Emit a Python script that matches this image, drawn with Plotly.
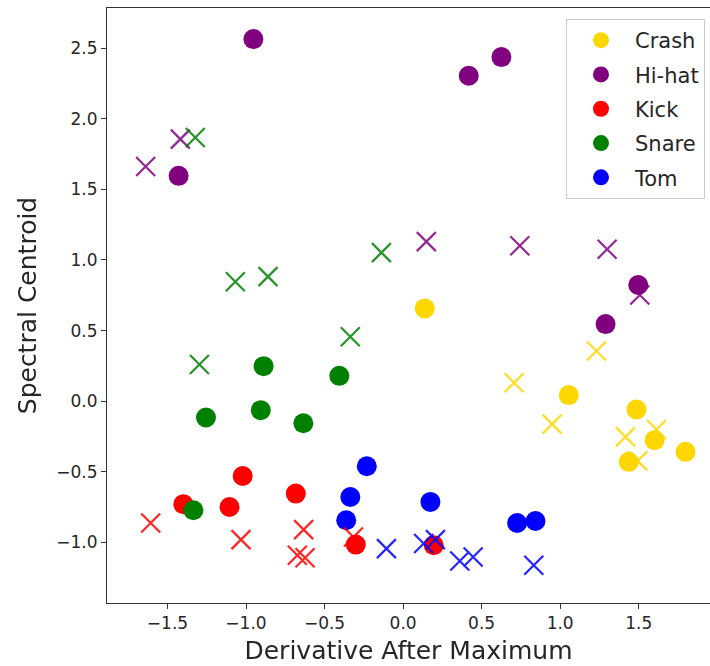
import plotly.graph_objects as go

classes = ["Crash", "Hi-hat", "Kick", "Snare", "Tom"]
colors = ["#FFD700", "#800080", "#FF0000", "#008000", "#0000FF"]

# circles (first group of samples)
crash_dot_x = [0.138, 1.055, 1.486, 1.601, 1.798, 1.437]
crash_dot_y = [0.657, 0.043, -0.059, -0.277, -0.359, -0.430]
hihat_dot_x = [-0.953, 0.418, 0.626, -1.429, 1.497, 1.289]
hihat_dot_y = [2.565, 2.305, 2.437, 1.596, 0.823, 0.546]
kick_dot_x = [-1.399, -1.021, -1.105, -0.683, -0.301, 0.195]
kick_dot_y = [-0.730, -0.530, -0.750, -0.655, -1.016, -1.021]
snare_dot_x = [-1.335, -0.888, -1.255, -0.906, -0.406, -0.635]
snare_dot_y = [-0.773, 0.248, -0.116, -0.064, 0.179, -0.157]
tom_dot_x = [-0.231, -0.336, -0.362, 0.174, 0.726, 0.843]
tom_dot_y = [-0.461, -0.679, -0.844, -0.714, -0.863, -0.849]

# crosses (second group of samples)
crash_cross_x = [0.707, 0.949, 1.231, 1.416, 1.613, 1.494]
crash_cross_y = [0.130, -0.163, 0.355, -0.253, -0.201, -0.423]
hihat_cross_x = [-1.639, -1.418, 0.148, 0.743, 1.299, 1.507]
hihat_cross_y = [1.662, 1.856, 1.130, 1.101, 1.076, 0.752]
kick_cross_x = [-1.607, -1.032, -0.633, -0.673, -0.624, -0.316]
kick_cross_y = [-0.863, -0.981, -0.910, -1.092, -1.109, -0.962]
snare_cross_x = [-1.323, -1.068, -0.860, -1.297, -0.336, -0.138]
snare_cross_y = [1.867, 0.846, 0.882, 0.260, 0.456, 1.052]
tom_cross_x = [-0.106, 0.131, 0.206, 0.361, 0.446, 0.832]
tom_cross_y = [-1.045, -1.009, -0.981, -1.133, -1.104, -1.163]

dots = [(crash_dot_x, crash_dot_y), (hihat_dot_x, hihat_dot_y), (kick_dot_x, kick_dot_y),
        (snare_dot_x, snare_dot_y), (tom_dot_x, tom_dot_y)]
crosses = [(crash_cross_x, crash_cross_y), (hihat_cross_x, hihat_cross_y),
           (kick_cross_x, kick_cross_y), (snare_cross_x, snare_cross_y),
           (tom_cross_x, tom_cross_y)]

FONT = "DejaVu Sans"
fig = go.Figure()
for name, col, (xs, ys) in zip(classes, colors, dots):
    fig.add_trace(go.Scatter(x=xs, y=ys, mode="markers", name=name, legendgroup=name,
                             marker=dict(symbol="circle", size=20, color=col,
                                         line=dict(width=0))))
for name, col, (xs, ys) in zip(classes, colors, crosses):
    fig.add_trace(go.Scatter(x=xs, y=ys, mode="markers", name=name, legendgroup=name,
                             showlegend=False, opacity=0.85,
                             marker=dict(symbol="x-thin", size=19, color=col,
                                         line=dict(width=2.2, color=col))))

axis_common = dict(showgrid=False, zeroline=False, showline=True, linecolor="#333333",
                   linewidth=1, ticks="outside", ticklen=5, tickwidth=1, tickcolor="#333333",
                   tickfont=dict(family=FONT, size=17, color="#262626"))
fig.update_xaxes(range=[-1.885, 1.954], dtick=0.5, tick0=0, tickformat=".1f", mirror=True,
                 title=dict(text="Derivative After Maximum", font=dict(family=FONT, size=25, color="#262626"),
                            standoff=9),
                 **axis_common)
fig.update_yaxes(range=[-1.430, 2.785], dtick=0.5, tick0=0, tickformat=".1f",
                 title=dict(text="Spectral Centroid", font=dict(family=FONT, size=25, color="#262626"),
                            standoff=12),
                 **axis_common)

fig.update_layout(
    width=710, height=666,
    margin=dict(l=107, r=0, t=8, b=63),
    plot_bgcolor="white", paper_bgcolor="white",
    font=dict(family=FONT, color="#262626"),
    legend=dict(x=0.9917, y=0.9815, xanchor="right", yanchor="top",
                bgcolor="white", bordercolor="#cccccc", borderwidth=1,
                font=dict(family=FONT, size=21, color="#262626"),
                tracegroupgap=4, itemwidth=58),
)
fig.write_html("out.html")
